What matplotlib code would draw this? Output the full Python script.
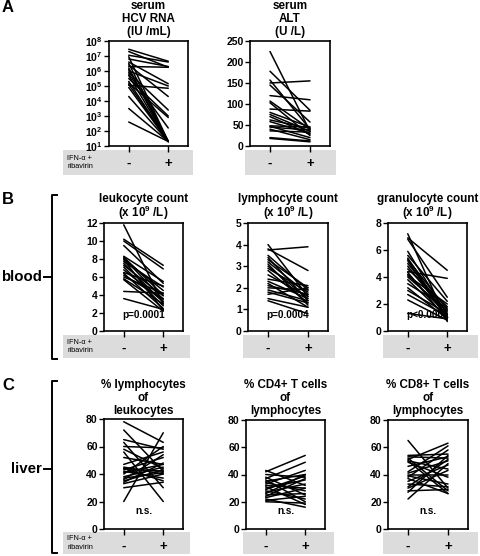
import matplotlib
matplotlib.use("Agg")
import matplotlib.pyplot as plt
import numpy as np

plt.rcParams['font.family'] = ['Liberation Sans', 'DejaVu Sans']
plt.rcParams['font.weight'] = 'bold'
plt.rcParams['mathtext.fontset'] = 'custom'
plt.rcParams['mathtext.rm'] = 'Liberation Sans:bold'
plt.rcParams['mathtext.bf'] = 'Liberation Sans:bold'
plt.rcParams['mathtext.default'] = 'rm'

# ---- data: value before (-) and during (+) IFN-a + ribavirin, one pair per patient ----
hcv_pre_log10 = [7.45, 7.3, 7.05, 6.95, 6.8, 6.6, 6.5, 6.4, 6.3, 6.1, 6.0, 5.9,
                 5.7, 5.5, 5.3, 5.2, 5.1, 5.05, 4.9, 4.3, 3.5, 2.6, 6.2, 5.8]
hcv_post_log10 = [6.65, 6.25, 6.6, 1.3, 6.3, 5.15, 1.3, 4.3, 6.25, 1.3, 5.0, 3.4,
                  1.3, 3.0, 1.3, 2.9, 1.3, 4.85, 1.3, 1.3, 1.3, 1.3, 1.3, 2.2]

alt_pre = [225, 178, 157, 150, 145, 120, 107, 103, 88, 80, 75, 70, 62, 58, 48, 47, 45, 40, 36, 20, 18]
alt_post = [35, 85, 40, 155, 57, 110, 40, 25, 83, 45, 35, 28, 42, 30, 45, 20, 38, 15, 33, 12, 10]

leuko_pre = [11.8, 10.2, 10.0, 9.5, 8.3, 8.2, 8.1, 8.0, 7.9, 7.7, 7.5, 7.3, 7.1, 6.5, 6.4,
             6.2, 6.0, 5.8, 5.7, 4.4, 3.6, 6.8]
leuko_post = [3.0, 7.3, 6.9, 5.3, 5.5, 4.0, 3.5, 4.5, 2.3, 4.9, 3.2, 3.9, 2.8, 5.0, 2.5,
              3.6, 4.2, 3.0, 2.2, 4.2, 2.4, 3.3]

lympho_pre = [3.75, 4.0, 3.8, 3.5, 3.4, 3.3, 3.2, 3.1, 3.0, 2.9, 2.8, 2.6, 2.4, 2.3, 2.2,
              2.1, 2.0, 1.9, 1.8, 1.7, 1.5, 1.4]
lympho_post = [3.9, 1.6, 2.8, 1.9, 1.4, 2.0, 1.7, 1.2, 1.5, 1.8, 1.3, 1.6, 2.1, 1.5, 1.1,
               1.7, 1.9, 1.4, 1.3, 2.0, 1.1, 0.8]

grano_pre = [7.2, 6.9, 6.8, 5.9, 5.6, 5.4, 5.3, 5.2, 5.0, 4.8, 4.6, 4.4, 4.35, 4.2, 4.0,
             3.8, 3.5, 3.2, 3.0, 2.7, 2.3, 1.3, 4.1]
grano_post = [0.7, 4.5, 2.5, 1.2, 2.2, 1.0, 1.6, 0.9, 1.4, 1.1, 1.8, 3.9, 0.8, 1.2, 1.5,
              1.0, 1.7, 0.9, 1.3, 1.1, 0.8, 0.9, 2.0]

pct_lym_pre = [78, 72, 65, 63, 60, 58, 56, 52, 47, 45, 44, 43, 42, 41, 40, 38, 37, 36,
               35, 34, 33, 30, 20, 44]
pct_lym_post = [63, 42, 58, 30, 59, 44, 20, 47, 56, 40, 42, 52, 37, 47, 60, 45, 41, 54,
                43, 48, 40, 34, 70, 35]

cd4_pre = [43, 42, 40, 38, 37, 36, 35, 34, 33, 32, 31, 30, 29, 28, 27, 26, 25, 24, 23, 22, 21, 20]
cd4_post = [32, 54, 38, 25, 49, 20, 40, 28, 43, 30, 18, 36, 39, 22, 33, 40, 26, 37, 30, 16, 24, 19]

cd8_pre = [65, 54, 53, 52, 51, 50, 49, 46, 42, 41, 40, 39, 38, 37, 35, 33, 31, 30, 28, 27, 22, 50]
cd8_post = [30, 55, 52, 28, 63, 44, 38, 53, 61, 50, 40, 33, 58, 26, 47, 31, 51, 43, 29, 54, 48, 26]

W, H = 480, 556
fig = plt.figure(figsize=(W / 100, H / 100), dpi=100)

# full-figure overlay in pixel coordinates for boxes, brackets and labels
bg = fig.add_axes([0, 0, 1, 1], zorder=-1)
bg.set_xlim(0, W)
bg.set_ylim(H, 0)
bg.axis('off')


def px_axes(l, t, r, b):
    return fig.add_axes([l / W, 1 - b / H, (r - l) / W, (b - t) / H])


def panel(box, pre, post, ylim, yticks, title_lines, title_ys, note=None, log=False, note_y=0.15):
    ax = px_axes(*box)
    for a, b in zip(pre, post):
        ax.plot([0, 1], [a, b], color='black', lw=1.1, solid_capstyle='round')
    if log:
        ax.set_yscale('log')
        ax.set_yticks(yticks)
        ax.set_yticklabels([r'$10^{%d}$' % int(round(np.log10(v))) for v in yticks])
        ax.minorticks_off()
    else:
        ax.set_yticks(yticks)
    ax.set_ylim(*ylim)
    ax.set_xlim(-0.5, 1.5)
    ax.set_xticks([0, 1])
    ax.set_xticklabels(['-', '+'], fontsize=9.5)
    ax.tick_params(axis='y', direction='out', length=3.5, width=1, labelsize=7.5, pad=1)
    ax.tick_params(axis='x', direction='out', length=4, width=1, pad=4.5)
    for s in ax.spines.values():
        s.set_linewidth(1.2)
    xc = (box[0] + box[2]) / 2
    for line, y in zip(title_lines, title_ys):
        bg.text(xc, y, line, fontsize=8.4, fontweight='bold', ha='center', va='center')
    if note:
        ax.text(0.5, note_y, note, transform=ax.transAxes, ha='center', va='center', fontsize=7.2)
    return ax


def gray_box(x0, y0, x1, y1, ifn=False):
    bg.add_patch(plt.Rectangle((x0, y0), x1 - x0, y1 - y0, color='#dcdcdc', lw=0))
    if ifn:
        mid = (y0 + y1) / 2
        bg.text(x0 + 4, mid - 4.5, 'IFN-α +', fontsize=5.3, fontweight='normal', va='center')
        bg.text(x0 + 4, mid + 4.5, 'ribavirin', fontsize=5.3, fontweight='normal', va='center')


ys_a = [6, 19, 32]
ys_b = [199, 213]
ys_c = [385, 398, 411]

# A
gray_box(63, 150, 193, 175, ifn=True)
gray_box(245, 150, 336, 175)
panel((109, 41, 188, 146), 10 ** np.array(hcv_pre_log10), 10 ** np.array(hcv_post_log10),
      (10, 1e8), [10 ** k for k in range(1, 9)], ['serum', 'HCV RNA', '(IU /mL)'], ys_a, log=True)
panel((250, 41, 330, 146), alt_pre, alt_post, (0, 250), [0, 50, 100, 150, 200, 250],
      ['serum', 'ALT', '(U /L)'], ys_a)

# B
gray_box(63, 335, 190, 358, ifn=True)
gray_box(243, 335, 335, 358)
gray_box(383, 335, 478, 358)
unit = '(x 10$^{9}$ /L)'
panel((104, 223, 183, 331), leuko_pre, leuko_post, (0, 12), [0, 2, 4, 6, 8, 10, 12],
      ['leukocyte count', unit], ys_b, 'p=0.0001')
panel((248, 223, 328, 331), lympho_pre, lympho_post, (0, 5), [0, 1, 2, 3, 4, 5],
      ['lymphocyte count', unit], ys_b, 'p=0.0004')
panel((388, 223, 467, 331), grano_pre, grano_post, (0, 8), [0, 2, 4, 6, 8],
      ['granulocyte count', unit], ys_b, 'p<0.0001')

# C
gray_box(63, 532, 190, 554, ifn=True)
gray_box(243, 532, 334, 554)
gray_box(383, 532, 478, 554)
panel((104, 419, 183, 529), pct_lym_pre, pct_lym_post, (0, 80), [0, 20, 40, 60, 80],
      ['% lymphocytes', 'of', 'leukocytes'], ys_c, 'n.s.', note_y=0.165)
panel((246, 420, 325, 529), cd4_pre, cd4_post, (0, 80), [0, 20, 40, 60, 80],
      ['% CD4+ T cells', 'of', 'lymphocytes'], ys_c, 'n.s.', note_y=0.165)
panel((388, 420, 468, 529), cd8_pre, cd8_post, (0, 80), [0, 20, 40, 60, 80],
      ['% CD8+ T cells', 'of', 'lymphocytes'], ys_c, 'n.s.', note_y=0.165)

# panel letters
for letter, y in [('A', 8), ('B', 199), ('C', 385)]:
    bg.text(2, y, letter, fontsize=12, fontweight='bold', va='center', ha='left')


def bracket(x, y0, y1, ym, label):
    bg.plot([x + 5, x, x, x + 5], [y0, y0, y1, y1], color='black', lw=1.4)
    bg.plot([x - 8, x], [ym, ym], color='black', lw=1.4)
    bg.text(x - 10, ym, label, fontsize=10.8, fontweight='bold', ha='right', va='center')


bracket(52, 195, 359, 277, 'blood')
bracket(52, 381, 553, 469, 'liver')

fig.savefig('out.png', dpi=100)
